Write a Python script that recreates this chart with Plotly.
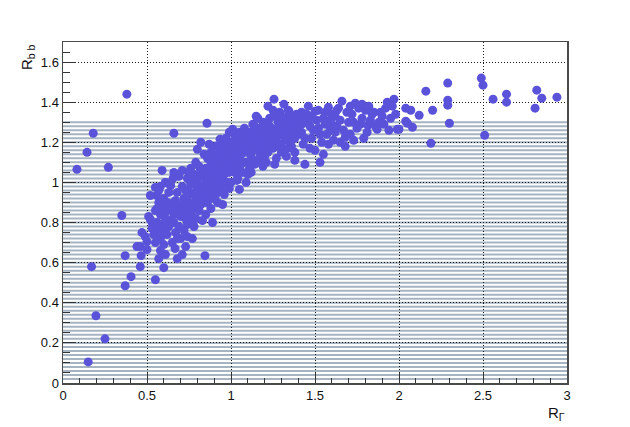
import plotly.graph_objects as go

# ---------------- data ----------------
outlier_x = [0.083, 0.143, 0.18, 0.27, 0.17, 0.196, 0.25, 0.15, 0.38, 0.35,
             0.37, 0.37, 0.405, 0.46, 0.55, 0.66, 0.857, 0.845, 0.60, 0.68,
             0.667,
             2.16, 2.29, 2.29, 2.29, 2.30, 2.20, 2.19, 2.49, 2.50, 2.51,
             2.56, 2.64, 2.64, 2.82, 2.85, 2.81, 2.94, 2.04, 2.07, 2.12,
             2.04, 2.05, 2.08, 2.00]
outlier_y = [1.065, 1.15, 1.245, 1.075, 0.58, 0.335, 0.22, 0.105, 1.44, 0.835,
             0.635, 0.485, 0.53, 0.58, 0.515, 1.245, 1.295, 0.635, 0.575, 0.62,
             0.67,
             1.455, 1.495, 1.41, 1.385, 1.295, 1.36, 1.195, 1.52, 1.485, 1.235,
             1.415, 1.44, 1.40, 1.46, 1.42, 1.37, 1.425, 1.37, 1.36, 1.335,
             1.305, 1.295, 1.275, 1.265]

tail_x = [0.47, 0.49, 0.50, 0.44, 0.46, 0.50, 0.465, 0.52, 0.51, 0.55,
          0.52, 0.56, 0.55, 0.59, 0.53, 0.56, 0.58, 0.57, 0.60, 0.54,
          0.58, 0.55, 0.60, 0.59, 0.57, 0.61, 0.62, 0.60, 0.53, 0.58,
          0.62, 0.56, 0.61, 0.59, 0.63, 0.57, 0.61, 0.64, 0.62, 0.58]
tail_y = [0.75, 0.73, 0.705, 0.68, 0.68, 0.665, 0.635, 0.815, 0.83, 0.86,
          0.935, 0.935, 0.975, 1.06, 0.77, 0.80, 0.84, 0.90, 0.92, 0.74,
          0.72, 0.70, 0.78, 0.88, 0.96, 1.00, 0.86, 0.69, 0.80, 0.66,
          0.74, 0.87, 0.82, 0.76, 0.95, 0.62, 0.64, 0.985, 0.90, 0.98]

low_x = [0.64, 0.655, 0.61, 0.71, 0.66, 0.68, 0.70, 0.72, 0.65, 0.67,
         0.69, 0.73, 0.74, 0.66, 0.68, 0.71, 0.75, 0.76, 0.70, 0.72,
         0.77, 0.78, 0.74, 0.76, 0.79, 0.73, 0.75, 0.78, 0.80, 0.69,
         0.71, 0.74, 0.77, 0.79, 0.80, 0.72, 0.76, 0.78, 0.67, 0.65,
         0.79, 0.80, 0.73, 0.75, 0.77, 0.70, 0.68, 0.63, 0.66, 0.74]
low_y = [0.985, 1.02, 1.00, 1.06, 0.80, 0.85, 0.88, 0.92, 0.70, 0.75,
         0.78, 0.82, 0.86, 0.90, 0.95, 0.98, 0.90, 0.95, 0.72, 0.76,
         1.00, 1.04, 1.02, 0.84, 0.88, 0.68, 0.80, 0.78, 0.92, 1.03,
         0.64, 0.73, 0.72, 0.82, 0.97, 0.87, 1.07, 0.94, 0.91, 0.88,
         1.10, 1.01, 0.96, 1.05, 0.86, 0.83, 0.72, 0.78, 1.05, 0.93]

mid_x = [0.80, 0.82, 0.83, 0.84, 0.85, 0.86, 0.87, 0.88, 0.89, 0.90,
         0.935, 0.92, 0.95, 0.91, 0.93, 0.96, 0.97, 0.98, 0.99, 1.00,
         0.81, 0.83, 0.85, 0.87, 0.89, 0.91, 0.93, 0.95, 0.97, 0.99,
         0.82, 0.84, 0.86, 0.88, 0.90, 0.92, 0.94, 0.96, 0.98, 1.00,
         0.81, 0.85, 0.88, 0.91, 0.94, 0.97, 1.00, 0.84, 0.87, 0.90,
         0.83, 0.86, 0.89, 0.92, 0.95, 0.98, 0.93, 0.96, 0.99, 0.82,
         0.88, 0.91, 0.94, 0.97, 0.80, 0.85, 0.90, 0.95, 0.99, 0.87]
mid_y = [1.165, 1.20, 0.81, 0.90, 0.95, 1.00, 1.05, 1.10, 0.80, 0.95,
         1.215, 0.90, 0.89, 1.00, 1.05, 1.10, 1.15, 1.00, 1.05, 1.20,
         0.86, 0.93, 1.07, 0.92, 1.12, 1.18, 0.97, 1.02, 1.08, 1.12,
         0.98, 1.03, 1.12, 0.87, 1.03, 1.08, 1.13, 0.94, 1.18, 1.06,
         1.08, 0.84, 0.97, 0.94, 1.00, 0.99, 1.00, 1.14, 1.19, 1.09,
         1.05, 0.90, 1.00, 1.14, 1.20, 1.10, 1.07, 1.04, 0.97, 0.89,
         1.15, 1.05, 1.17, 1.22, 0.95, 1.00, 1.12, 1.13, 1.25, 1.02]

core_x = [1.035, 1.05, 1.01, 1.02, 1.03, 1.04, 1.06, 1.07, 1.08, 1.09,
          1.10, 1.11, 1.12, 1.13, 1.14, 1.15, 1.16, 1.17, 1.18, 1.19,
          1.01, 1.03, 1.05, 1.07, 1.09, 1.11, 1.13, 1.15, 1.17, 1.19,
          1.02, 1.04, 1.06, 1.08, 1.10, 1.12, 1.14, 1.16, 1.18, 1.20,
          1.00, 1.05, 1.10, 1.15, 1.20, 1.03, 1.08, 1.13, 1.18, 1.12,
          1.06, 1.09, 1.14, 1.17, 1.19, 1.11, 1.16, 1.04, 1.07, 1.02]
core_y = [1.01, 0.965, 1.265, 1.05, 1.10, 1.15, 1.20, 1.05, 1.10, 1.00,
          1.15, 1.25, 1.05, 1.10, 1.20, 1.33, 1.32, 1.12, 1.25, 1.08,
          1.13, 1.18, 1.08, 1.22, 1.17, 1.07, 1.16, 1.25, 1.15, 1.20,
          1.24, 1.02, 1.14, 1.27, 1.04, 1.21, 1.28, 1.11, 1.18, 1.13,
          1.08, 1.25, 1.20, 1.18, 1.24, 1.12, 1.15, 1.29, 1.10, 1.13,
          1.09, 1.24, 1.09, 1.27, 1.30, 1.16, 1.21, 1.06, 1.17, 1.16]

fill_x = [0.86, 0.88, 0.90, 0.92, 0.94, 0.96, 0.98, 1.00, 1.02, 1.04,
          0.87, 0.89, 0.91, 0.93, 0.95, 0.97, 0.99, 1.01, 1.03, 1.05,
          0.76, 0.78, 0.80, 0.82, 0.84, 0.86, 0.88, 0.90, 0.92, 0.94,
          1.06, 1.08, 1.10, 1.12, 1.14, 1.16, 1.18, 1.20, 1.22, 1.24,
          1.26, 1.28, 1.30, 1.32, 1.34, 1.36, 1.38, 1.40, 1.42, 1.44,
          0.70, 0.72, 0.74, 0.68, 0.66, 0.64, 0.62, 0.60, 0.58, 0.56]
fill_y = [1.06, 1.02, 1.07, 1.03, 1.09, 1.06, 1.13, 1.11, 1.09, 1.12,
          0.95, 1.08, 1.11, 1.10, 1.15, 1.18, 1.15, 1.19, 1.22, 1.16,
          0.99, 0.90, 1.03, 1.06, 0.97, 1.04, 0.92, 0.99, 1.00, 0.96,
          1.18, 1.20, 1.10, 1.17, 1.24, 1.26, 1.21, 1.17, 1.23, 1.27,
          1.21, 1.18, 1.26, 1.32, 1.29, 1.26, 1.31, 1.27, 1.29, 1.33,
          0.85, 0.89, 0.79, 0.89, 0.84, 0.81, 0.79, 0.84, 0.79, 0.76]

upper_x = [1.256, 1.315, 1.345, 1.22, 1.24, 1.26, 1.28, 1.30, 1.32, 1.34,
           1.36, 1.38, 1.40, 1.21, 1.23, 1.25, 1.27, 1.29, 1.31, 1.33,
           1.35, 1.37, 1.39, 1.22, 1.26, 1.30, 1.34, 1.38, 1.24, 1.28,
           1.32, 1.36, 1.40, 1.23, 1.27, 1.31, 1.35, 1.39, 1.25, 1.29,
           1.21, 1.33, 1.37, 1.26, 1.30, 1.22, 1.28, 1.34, 1.38, 1.20]
upper_y = [1.415, 1.39, 1.355, 1.15, 1.20, 1.25, 1.30, 1.18, 1.22, 1.27,
           1.32, 1.15, 1.24, 1.10, 1.28, 1.17, 1.22, 1.35, 1.25, 1.13,
           1.20, 1.29, 1.34, 1.26, 1.33, 1.15, 1.36, 1.22, 1.19, 1.24,
           1.30, 1.18, 1.30, 1.32, 1.12, 1.28, 1.24, 1.27, 1.36, 1.19,
           1.20, 1.21, 1.25, 1.09, 1.33, 1.38, 1.27, 1.17, 1.11, 1.29]

high_x = [1.44, 1.53, 1.43, 1.50, 1.58, 1.42, 1.46, 1.48, 1.52, 1.55,
          1.57, 1.60, 1.62, 1.64, 1.45, 1.47, 1.49, 1.51, 1.54, 1.56,
          1.59, 1.61, 1.63, 1.41, 1.44, 1.47, 1.50, 1.53, 1.56, 1.60,
          1.62, 1.65, 1.46, 1.52, 1.58, 1.42, 1.55, 1.48, 1.63, 1.59]
high_y = [1.09, 1.10, 1.19, 1.355, 1.375, 1.25, 1.30, 1.22, 1.27, 1.32,
          1.24, 1.29, 1.33, 1.37, 1.34, 1.17, 1.26, 1.31, 1.20, 1.35,
          1.26, 1.21, 1.28, 1.31, 1.22, 1.28, 1.16, 1.24, 1.29, 1.34,
          1.25, 1.31, 1.38, 1.36, 1.19, 1.35, 1.14, 1.33, 1.36, 1.31]

top_x = [1.66, 1.74, 1.93, 1.97, 1.68, 1.68, 1.815, 1.87, 1.99, 1.70,
         1.72, 1.75, 1.78, 1.80, 1.83, 1.85, 1.88, 1.90, 1.92, 1.95,
         1.67, 1.69, 1.71, 1.73, 1.76, 1.79, 1.82, 1.86, 1.89, 1.96,
         1.77, 1.81, 1.84, 1.91, 1.98, 1.71, 1.94, 1.65, 1.73, 1.78]
top_y = [1.405, 1.395, 1.40, 1.415, 1.18, 1.225, 1.285, 1.265, 1.265, 1.30,
         1.34, 1.27, 1.32, 1.36, 1.31, 1.35, 1.30, 1.33, 1.37, 1.32,
         1.26, 1.35, 1.24, 1.30, 1.37, 1.22, 1.38, 1.28, 1.35, 1.38,
         1.29, 1.25, 1.34, 1.29, 1.34, 1.38, 1.26, 1.20, 1.21, 1.39]

# horizontal background lines (levels of R_bb)
band_levels = [round(0.02 * k, 2) for k in range(1, 66)]

x_ticks = [0, 0.5, 1, 1.5, 2, 2.5, 3]
x_tick_text = ["0", "0.5", "1", "1.5", "2", "2.5", "3"]
y_ticks = [0, 0.2, 0.4, 0.6, 0.8, 1.0, 1.2, 1.4, 1.6]
y_tick_text = ["0", "0.2", "0.4", "0.6", "0.8", "1", "1.2", "1.4", "1.6"]

r_gamma = (outlier_x + tail_x + low_x + mid_x + core_x + fill_x
           + upper_x + high_x + top_x)
r_bb = (outlier_y + tail_y + low_y + mid_y + core_y + fill_y
        + upper_y + high_y + top_y)

# ---------------- figure ----------------
FONT = "Liberation Sans, Arial, Helvetica, sans-serif"
fig = go.Figure()

fig.add_trace(go.Scatter(
    x=r_gamma, y=r_bb, mode="markers",
    marker=dict(color="#5a53da", size=9, line=dict(width=0)),
    hoverinfo="skip", showlegend=False,
))

shapes = []
for lv in band_levels:
    shapes.append(dict(type="line", xref="x", yref="y", x0=0, x1=3, y0=lv, y1=lv,
                       layer="below", line=dict(color="#a6b3c1", width=2)))

axis_common = dict(
    showgrid=True, gridcolor="#1a1a1a", griddash="1px,2px", gridwidth=1,
    zeroline=False, showline=True, linecolor="#4a4a4a", linewidth=1.5, mirror=True,
    ticks="inside", tickcolor="#333333", tickwidth=1,
    tickfont=dict(family=FONT, size=13, color="#111111"),
)

fig.update_layout(
    width=630, height=427,
    margin=dict(l=63, r=63, t=42, b=44),
    paper_bgcolor="white", plot_bgcolor="white",
    font=dict(family=FONT, size=13, color="#111111"),
    shapes=shapes,
    xaxis=dict(range=[0, 3], tickvals=x_ticks, ticktext=x_tick_text, ticklen=10,
               minor=dict(dtick=0.1, tick0=0, ticks="inside", ticklen=5,
                          tickcolor="#333333", showgrid=False),
               **axis_common),
    yaxis=dict(range=[0, 1.7], tickvals=y_ticks, ticktext=y_tick_text, ticklen=13,
               minor=dict(dtick=0.05, tick0=0, ticks="inside", ticklen=7,
                          tickcolor="#333333", showgrid=False),
               **axis_common),
    annotations=[
        dict(text="R<sub>b b</sub>", xref="paper", yref="paper",
             x=(27 - 63) / 504, y=1.0, xanchor="center", yanchor="top",
             textangle=-90, showarrow=False,
             font=dict(family=FONT, size=15, color="#111111")),
        dict(text="R<sub>Γ</sub>", xref="paper", yref="paper",
             x=1.0, y=-0.055, xanchor="right", yanchor="top",
             showarrow=False,
             font=dict(family=FONT, size=15, color="#111111")),
    ],
)

fig.write_html("out.html",
               config={"displayModeBar": False, "staticPlot": True},
               post_script="document.body.style.margin='0';"
                           "document.body.style.padding='0';")
